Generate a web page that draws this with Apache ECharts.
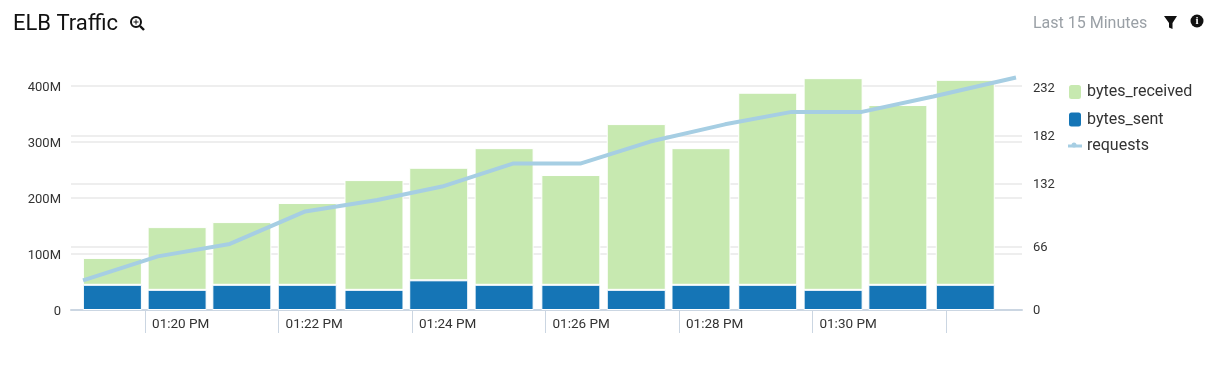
<!DOCTYPE html>
<html><head><meta charset="utf-8">
<style>html,body{margin:0;padding:0;background:#fff}#c{width:1220px;height:370px}</style>
<script src="https://cdn.jsdelivr.net/npm/echarts@6/dist/echarts.min.js"></script>
</head><body><div id="c"></div>
<script>
// times are minutes after 1:00 PM
const barMinutes = [19.51,20.48,21.45,22.43,23.43,24.40,25.38,26.38,27.36,28.33,29.33,30.31,31.28,32.29];
const bytesSent = [45,36,45,45,36,53,45,45,36,45,45,36,45,45];
const bytesReceived = [48,112,112,146,196,201,244,196,296,244,343,378,321,366];
const lineMinutes = [19.07,20.19,21.27,22.40,23.48,24.45,25.51,26.52,27.57,28.69,29.69,30.74,31.81,33.05];
const requests = [31,56,69,103,115,129,153,153,176,194,207,207,223,243];
const xTicks = [20,22,24,26,28,30,32];
const xTickLabels = ['01:20 PM','01:22 PM','01:24 PM','01:26 PM','01:28 PM','01:30 PM'];
const leftTicks = [0,100,200,300,400];
const rightTicks = [0,66,132,182,232];
const X_MIN = 18.89, X_MAX = 33.14;
// a time axis carrying bars widens its range by half a bar on each side; start that much inside
const BAR_PAD = 0.442;
const BASE = Date.UTC(2020,0,1,13,0,0);
const T = m => BASE + Math.round(m*60000);
const fmtMin = v => xTickLabels[xTicks.indexOf(v)] || '';
const FONT = 'Roboto';
const chart = echarts.init(document.getElementById('c'), null, {renderer:'canvas'});
const gridLine = {show:true, lineStyle:{color:'#eeeeee', width:2}};
chart.setOption({
  animation:false,
  useUTC:true,
  backgroundColor:'#fff',
  textStyle:{fontFamily:FONT},
  title:[
    {text:'ELB Traffic', left:8, top:8, textStyle:{fontFamily:FONT, fontSize:22, fontWeight:'normal', color:'#111'}},
    {text:'Last 15 Minutes', left:1028, top:11, textStyle:{fontFamily:FONT, fontSize:16, fontWeight:'normal', color:'#9aa0a6'}}
  ],
  grid:{left:71, right:198, top:58, bottom:60},
  legend:{
    orient:'vertical', left:1062, top:78, itemWidth:14, itemHeight:16, itemGap:9.5,
    textStyle:{fontFamily:FONT, fontSize:16, color:'#333'},
    data:[{name:'bytes_received', icon:'roundRect'},{name:'bytes_sent', icon:'roundRect'},{name:'requests', icon:'path://M0 0H14V3H0Z'}]
  },
  xAxis:[
    {type:'time', show:false, min:T(X_MIN+BAR_PAD), max:T(X_MAX-BAR_PAD), splitLine:{show:false}},
    {type:'value', position:'bottom', min:X_MIN, max:X_MAX, splitLine:{show:false},
     axisLine:{show:true, onZero:false, lineStyle:{color:'#cbd6e2', width:2}},
     axisTick:{show:true, length:23, customValues:xTicks, lineStyle:{color:'#cbd6e2', width:1}},
     axisLabel:{customValues:xTicks.slice(0,xTickLabels.length), formatter:fmtMin, align:'left', margin:8, padding:[0,0,0,7], color:'#333', fontSize:13.5, fontFamily:FONT}}
  ],
  yAxis:[
    {type:'value', min:0, max:450, axisLine:{show:false},
     axisTick:{show:false, customValues:leftTicks}, splitLine:gridLine,
     axisLabel:{customValues:leftTicks, formatter:v=>v===0?'0':v+'M', margin:10, verticalAlign:'top', lineHeight:4, color:'#333', fontSize:13, fontFamily:FONT}},
    {type:'value', min:0, max:263.3, position:'right', axisLine:{show:false},
     axisTick:{show:false, customValues:rightTicks.slice(0,4)}, splitLine:gridLine,
     axisLabel:{customValues:rightTicks, margin:11, verticalAlign:'top', lineHeight:2, color:'#333', fontSize:13, fontFamily:FONT}}
  ],
  series:[
    {name:'bytes_sent', type:'bar', stack:'b', xAxisIndex:0, yAxisIndex:0, barWidth:59,
     data:barMinutes.map((m,i)=>[T(m), bytesSent[i]]),
     itemStyle:{color:'#1575b6', borderColor:'#fff', borderWidth:1}},
    {name:'bytes_received', type:'bar', stack:'b', xAxisIndex:0, yAxisIndex:0, barWidth:59,
     data:barMinutes.map((m,i)=>[T(m), bytesReceived[i]]),
     itemStyle:{color:'#c7e9b0', borderColor:'#fff', borderWidth:1}},
    {name:'requests', type:'line', xAxisIndex:1, yAxisIndex:1,
     data:lineMinutes.map((m,i)=>[m, requests[i]]), clip:false,
     showSymbol:false, symbol:'none', smooth:false,
     lineStyle:{color:'#a6cee3', width:4}, itemStyle:{color:'#a6cee3'}}
  ],
  graphic:[
    // magnifier
    {type:'circle', shape:{cx:136,cy:22,r:5}, style:{fill:'none', stroke:'#111', lineWidth:2}},
    {type:'line', shape:{x1:140,y1:26,x2:144,y2:30}, style:{stroke:'#111', lineWidth:2.4}},
    {type:'line', shape:{x1:133.5,y1:22,x2:138.5,y2:22}, style:{stroke:'#111', lineWidth:1}},
    {type:'line', shape:{x1:136,y1:19.5,x2:136,y2:24.5}, style:{stroke:'#111', lineWidth:1}},
    // filter
    {type:'polygon', shape:{points:[[1164,16],[1177,16],[1172.5,23],[1172.5,29],[1169,27.5],[1169,23]]}, style:{fill:'#111'}},
    // info
    {type:'circle', shape:{cx:1197,cy:21,r:6.5}, style:{fill:'#111'}},
    {type:'text', style:{x:1197, y:21, text:'i', fill:'#fff', font:'bold 11px "Liberation Serif"', textAlign:'center', textVerticalAlign:'middle'}},
    // legend marker on the requests line
    {type:'circle', shape:{cx:1074,cy:145,r:2.5}, style:{fill:'#a6cee3'}}
  ]
});
</script></body></html>
